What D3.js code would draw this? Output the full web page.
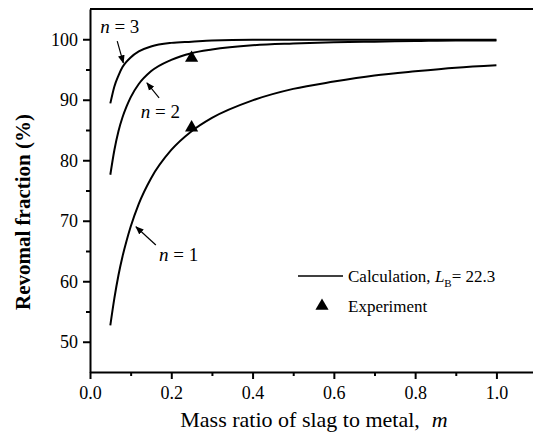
<html><head>
<script src="https://d3js.org/d3.v7.min.js"></script>
<style>
  body { margin: 0; background: #fff; }
  svg text { font-family: "Liberation Serif", "Times New Roman", serif; fill: #000; }
  .axis path, .axis line { stroke: #000; stroke-width: 2; }
  .axis text { font-size: 18px; font-family: "Liberation Serif", "Times New Roman", serif; }
</style>
</head>
<body>
<svg id="chart" width="533" height="439"></svg>
<script>
// mass ratio values where the curves were read
const massRatio = [0.05, 0.06, 0.07, 0.08, 0.09, 0.10, 0.12, 0.15, 0.20, 0.25, 0.30, 0.40, 0.50, 0.60, 0.70, 0.80, 0.90, 1.00];

// removal fraction (%) for n = 1, 2, 3
const removalN1 = [52.7, 57.2, 61.0, 64.1, 66.7, 69.0, 72.8, 77.0, 81.7, 84.8, 87.0, 89.9, 91.8, 93.0, 94.0, 94.7, 95.3, 95.7];
const removalN2 = [77.6, 81.7, 84.8, 87.1, 88.9, 90.4, 92.6, 94.7, 96.6, 97.7, 98.3, 99.0, 99.3, 99.5, 99.6, 99.7, 99.8, 99.8];
const removalN3 = [89.4, 92.2, 94.0, 95.4, 96.3, 97.0, 98.0, 98.8, 99.4, 99.6, 99.8, 99.9, 99.9, 99.9, 99.9, 99.9, 99.9, 99.9];

// experiment points
const expMass = [0.25, 0.25];
const expRemoval = [96.9, 85.4];

const xTicks = [0, 0.2, 0.4, 0.6, 0.8, 1.0];
const xMinor = [0.1, 0.3, 0.5, 0.7, 0.9];
const yTicks = [50, 60, 70, 80, 90, 100];
const yMinor = [55, 65, 75, 85, 95];

// curve labels with their arrows, in data units
const curveLabels = [
  {n: "3", lx: 0.025, ly: 101.0, x1: 0.067, y1: 99.7, x2: 0.082, y2: 96.1},
  {n: "2", lx: 0.125, ly: 87.0, x1: 0.170, y1: 90.3, x2: 0.140, y2: 92.8},
  {n: "1", lx: 0.170, ly: 63.3, x1: 0.162, y1: 66.0, x2: 0.113, y2: 69.0}
];

const svg = d3.select("#chart");
const margins = {top: 9, left: 90, bottom: 372, right: 533};

const x = d3.scaleLinear().domain([0, 1.09]).range([margins.left, margins.right]);
const y = d3.scaleLinear().domain([45, 105]).range([margins.bottom, margins.top]);

// top frame line
svg.append("line")
   .attr("x1", x(0)).attr("x2", x(1.09))
   .attr("y1", y(105)).attr("y2", y(105))
   .attr("stroke", "#000").attr("stroke-width", 2);

// minor ticks first
svg.append("g").attr("class", "axis")
   .attr("transform", `translate(0,${margins.bottom})`)
   .call(d3.axisBottom(x).tickValues(xMinor).tickSize(4).tickFormat(""))
   .select(".domain").remove();
svg.append("g").attr("class", "axis")
   .attr("transform", `translate(${margins.left},0)`)
   .call(d3.axisLeft(y).tickValues(yMinor).tickSize(4).tickFormat(""))
   .select(".domain").remove();

svg.append("g").attr("class", "axis")
   .attr("transform", `translate(0,${margins.bottom})`)
   .call(d3.axisBottom(x).tickValues(xTicks).tickSize(7).tickSizeOuter(0).tickPadding(7).tickFormat(d3.format(".1f")))
   .attr("font-family", "Liberation Serif").attr("font-size", 18);

svg.append("g").attr("class", "axis")
   .attr("transform", `translate(${margins.left},0)`)
   .call(d3.axisLeft(y).tickValues(yTicks).tickSize(7).tickSizeOuter(0).tickPadding(5))
   .attr("font-family", "Liberation Serif").attr("font-size", 18);

// curves
const line = d3.line()
   .x((d, i) => x(massRatio[i]))
   .y(d => y(d))
   .curve(d3.curveMonotoneX);

[removalN1, removalN2, removalN3].forEach(series => {
  svg.append("path")
     .attr("d", line(series))
     .attr("fill", "none")
     .attr("stroke", "#000")
     .attr("stroke-width", 2);
});

// experiment triangles
const tri = d3.symbol().type(d3.symbolTriangle).size(75);
expMass.forEach((m, i) => {
  svg.append("path")
     .attr("d", tri())
     .attr("transform", `translate(${x(m)},${y(expRemoval[i])})`)
     .attr("fill", "#000");
});

// arrowhead
svg.append("defs").append("marker")
   .attr("id", "arrow")
   .attr("viewBox", "0 0 10 10")
   .attr("refX", 9).attr("refY", 5)
   .attr("markerWidth", 7).attr("markerHeight", 7)
   .attr("orient", "auto")
   .append("path").attr("d", "M0,1 L10,5 L0,9 Z").attr("fill", "#000");

curveLabels.forEach(c => {
  svg.append("line")
     .attr("x1", x(c.x1)).attr("y1", y(c.y1))
     .attr("x2", x(c.x2)).attr("y2", y(c.y2))
     .attr("stroke", "#000").attr("stroke-width", 1.2)
     .attr("marker-end", "url(#arrow)");
  let t = svg.append("text")
     .attr("x", x(c.lx)).attr("y", y(c.ly))
     .style("font-size", "19px");
  t.append("tspan").style("font-style", "italic").text("n");
  t.append("tspan").text(" = " + c.n);
});

// legend
svg.append("line")
   .attr("x1", 298).attr("x2", 343).attr("y1", 276).attr("y2", 276)
   .attr("stroke", "#000").attr("stroke-width", 1.5);
let lt = svg.append("text").attr("x", 348).attr("y", 282).style("font-size", "17px");
lt.append("tspan").text("Calculation, ");
lt.append("tspan").style("font-style", "italic").text("L");
lt.append("tspan").attr("dy", 5).style("font-size", "11px").text("B");
lt.append("tspan").attr("dy", -5).text("= 22.3");

svg.append("path")
   .attr("d", tri())
   .attr("transform", "translate(322,306)")
   .attr("fill", "#000");
svg.append("text").attr("x", 348).attr("y", 312).style("font-size", "17px").text("Experiment");

// axis titles
let xl = svg.append("text")
   .attr("x", 314).attr("y", 427)
   .attr("text-anchor", "middle")
   .style("font-size", "22px");
xl.append("tspan").text("Mass ratio of slag to metal,");
xl.append("tspan").attr("dx", 12).style("font-style", "italic").text("m");

svg.append("text")
   .attr("transform", "translate(30,212) rotate(-90)")
   .attr("text-anchor", "middle")
   .style("font-size", "21px")
   .style("font-weight", "bold")
   .text("Revomal fraction (%)");
</script>
</body>
</html>
